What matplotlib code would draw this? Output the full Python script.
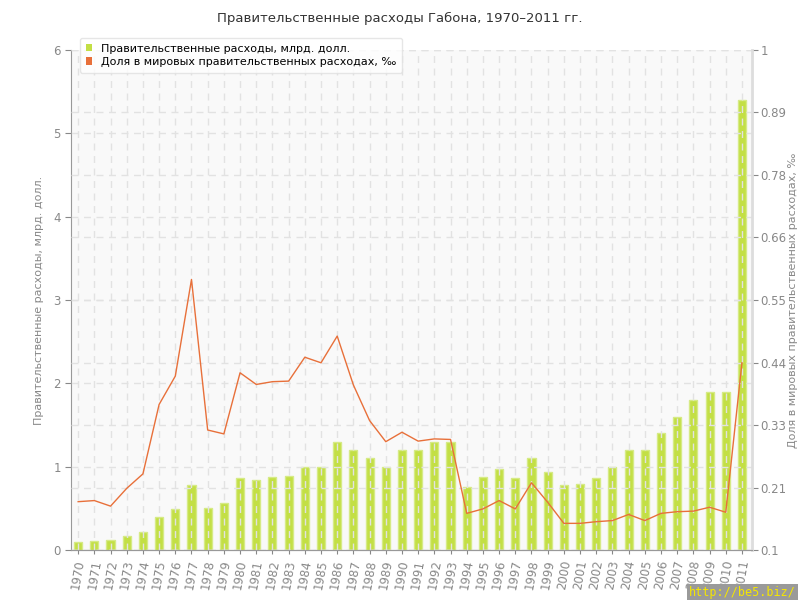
import numpy as np
import matplotlib
matplotlib.use("Agg")
import matplotlib.pyplot as plt

# data
years = list(range(1970, 2012))
spending = [0.10, 0.11, 0.12, 0.17, 0.22, 0.40, 0.49, 0.78, 0.50, 0.56,
            0.86, 0.84, 0.88, 0.89, 1.00, 1.00, 1.30, 1.20, 1.10, 1.00,
            1.20, 1.20, 1.30, 1.30, 0.76, 0.88, 0.97, 0.87, 1.10, 0.94,
            0.78, 0.79, 0.86, 1.00, 1.20, 1.20, 1.40, 1.60, 1.80, 1.90,
            1.90, 5.40]
share = [0.187, 0.189, 0.179, 0.211, 0.237, 0.362, 0.413, 0.587, 0.316, 0.309,
         0.419, 0.398, 0.403, 0.404, 0.447, 0.437, 0.485, 0.397, 0.333, 0.295,
         0.312, 0.296, 0.300, 0.299, 0.166, 0.174, 0.189, 0.174, 0.221, 0.186,
         0.148, 0.148, 0.151, 0.153, 0.164, 0.153, 0.166, 0.169, 0.170, 0.177,
         0.168, 0.437]
left_ticks = [0, 1, 2, 3, 4, 5, 6]
right_ticks = [0.1 + k * 0.9 / 8 for k in range(9)]
right_labels = ["0.1", "0.21", "0.33", "0.44", "0.55", "0.66", "0.78", "0.89", "1"]

title = "Правительственные расходы Габона, 1970–2011 гг."
left_label = "Правительственные расходы, млрд. долл."
right_label = "Доля в мировых правительственных расходах, ‰"

plt.rcParams['font.family'] = ['DejaVu Sans']
gray = "#888888"
bar_color = "#c3df45"
line_color = "#e8703a"

fig = plt.figure(figsize=(8, 6), dpi=100)
ax = fig.add_axes([0.089, 0.0833, 0.851, 0.8334])
ax.set_facecolor("#f9f9f9")

ax.bar(years, spending, width=0.5, color=bar_color, edgecolor="#d6ea86",
       linewidth=1, zorder=2)
ax.set_xlim(1969.57, 2011.62)
ax.set_ylim(0, 6)
ax.set_yticks(left_ticks)
ax.set_xticks(years)
ax.set_xticklabels([str(y) for y in years], rotation=80, fontsize=8.5, color=gray)
ax.tick_params(axis='y', labelsize=8.5, colors=gray, length=4)
ax.tick_params(axis='x', length=3, colors=gray, labelcolor=gray)
ax.grid(True, color="#e2e2e2", linestyle=(0, (5, 4)), linewidth=1, zorder=3)
ax.set_axisbelow(False)
for s in ["top", "right"]:
    ax.spines[s].set_visible(False)
for s in ["left", "bottom"]:
    ax.spines[s].set_color("#999999")
ax.set_ylabel(left_label, color=gray, fontsize=8, labelpad=7)

ax2 = ax.twinx()
ax2.plot(years, share, color=line_color, linewidth=1, zorder=5)
ax2.set_ylim(0.1, 1)
ax2.set_yticks(right_ticks)
ax2.set_yticklabels(right_labels)
ax2.tick_params(axis='y', labelsize=8.5, colors=gray, length=4, pad=2)
ax2.yaxis.grid(True, color="#e2e2e2", linestyle=(0, (5, 4)), linewidth=1)
for s in ["top", "left"]:
    ax2.spines[s].set_visible(False)
ax2.spines["right"].set_color("#dddddd")
ax2.spines["right"].set_linewidth(2)
ax2.spines["bottom"].set_color("#999999")
ax2.set_ylabel(right_label, color=gray, fontsize=8, labelpad=1)

# legend
ax2.bar([0], [0], color=bar_color, label="Правительственные расходы, млрд. долл.")
ax2.bar([0], [0], color=line_color, label="Доля в мировых правительственных расходах, ‰")
leg = ax2.legend(loc="upper left", bbox_to_anchor=(0.005, 1.035), fontsize=8,
                 frameon=True, fancybox=True, shadow=False, handlelength=0.6,
                 handleheight=0.6, handletextpad=0.8, borderpad=0.5,
                 labelspacing=0.3, facecolor="white", edgecolor="#e0e0e0")
leg.set_zorder(10)

fig.text(0.5, 0.97, title, ha="center", va="center", fontsize=9.5, color="#333333")
fig.text(0.995, 0.012, "http://be5.biz/", ha="right", va="center", fontsize=8.5,
         color="#f5e600", family="DejaVu Sans Mono",
         bbox=dict(facecolor="#9a9a9a", edgecolor="none", pad=1.5))

fig.savefig("out.png", dpi=100)
